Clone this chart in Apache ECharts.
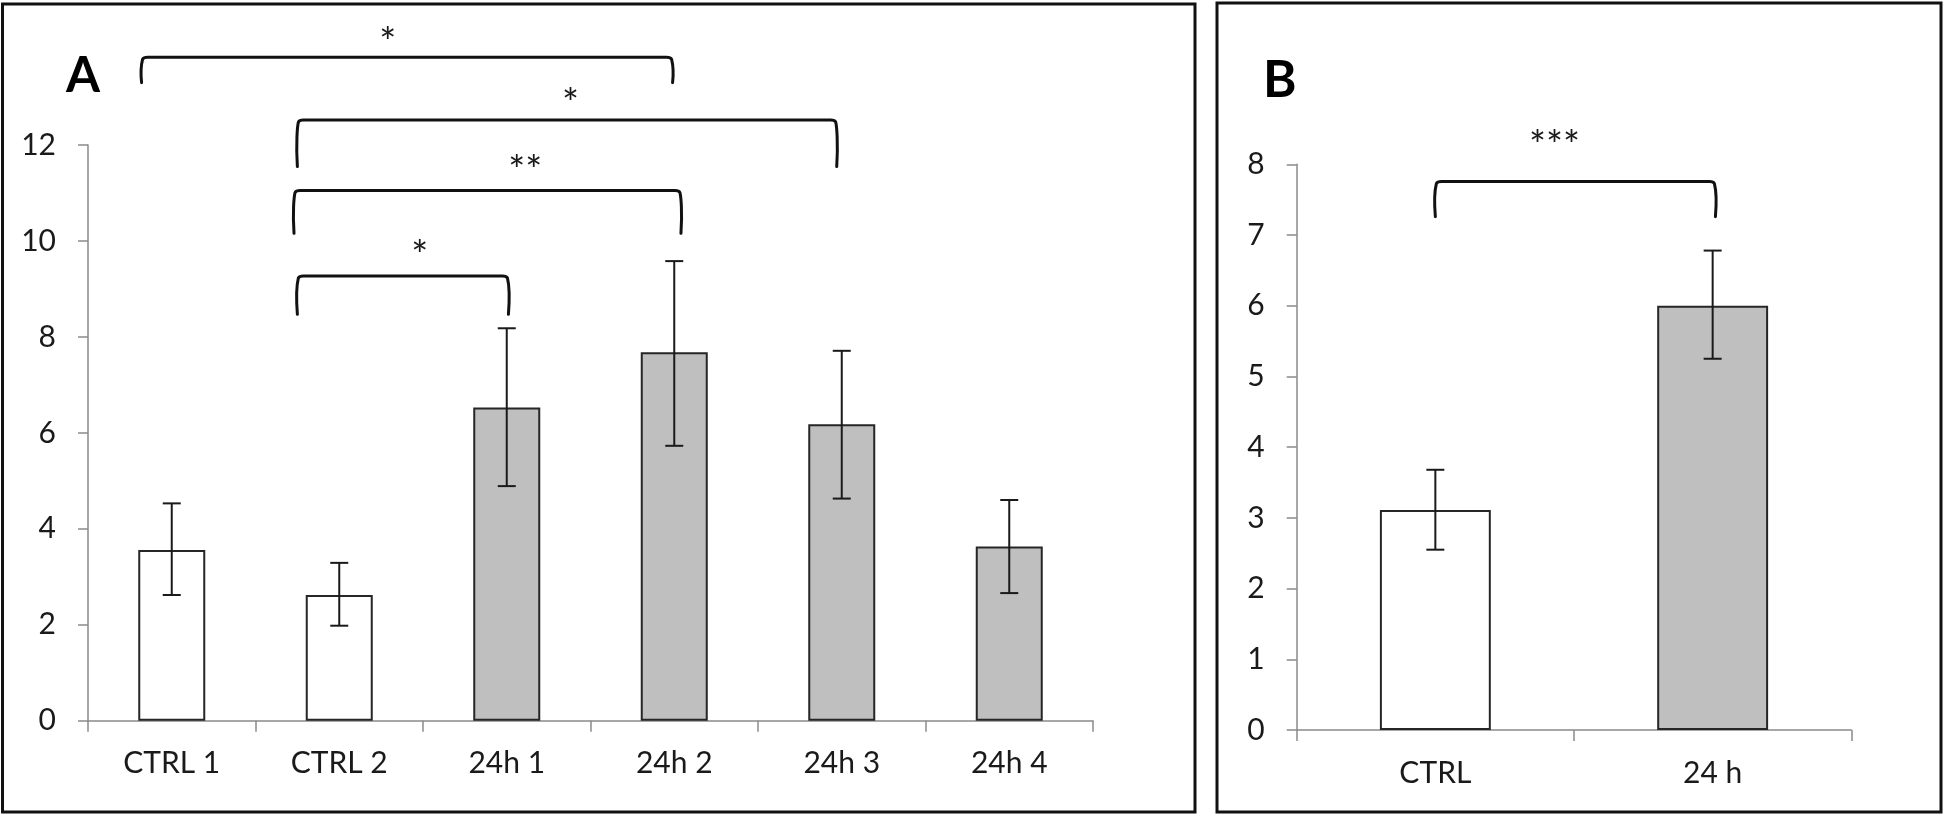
<!DOCTYPE html>
<html>
<head>
<meta charset="utf-8">
<script src="https://cdn.jsdelivr.net/npm/echarts@6/dist/echarts.min.js"></script>
<style>
html,body{margin:0;padding:0;background:#ffffff;}
#chart{width:1946px;height:815px;}
</style>
</head>
<body>
<div id="chart"></div>
<script>
// ---------- Panel A data ----------
const categoriesA = ['CTRL 1', 'CTRL 2', '24h 1', '24h 2', '24h 3', '24h 4'];
const groupA      = ['ctrl', 'ctrl', '24h', '24h', '24h', '24h'];
const meanA       = [3.56, 2.62, 6.53, 7.68, 6.18, 3.63];
const errHighA    = [4.53, 3.29, 8.18, 9.58, 7.71, 4.60];
const errLowA     = [2.62, 1.98, 4.89, 5.73, 4.63, 2.66];
const yTicksA     = { min: 0, max: 12, interval: 2 };

// significance brackets A (ends in category units, levels in data units)
const bracketFromA  = [-0.18, 0.75, 0.73, 0.75];
const bracketToA    = [2.99, 3.97, 3.04, 2.01];
const bracketTopA   = [13.83, 12.52, 11.05, 9.27];
const bracketEndA   = [13.30, 11.55, 10.16, 8.47];
const bracketLabelA = ['*', '*', '**', '*'];
const starPosA      = [1.29, 2.38, 2.11, 1.48];
const starLevelA    = [14.33, 13.04, 11.65, 9.88];

// ---------- Panel B data ----------
const categoriesB = ['CTRL', '24 h'];
const groupB      = ['ctrl', '24h'];
const meanB       = [3.11, 6.00];
const errHighB    = [3.68, 6.78];
const errLowB     = [2.55, 5.25];
const yTicksB     = { min: 0, max: 8, interval: 1 };

const bracketFromB  = [0.0];
const bracketToB    = [1.01];
const bracketTopB   = [7.755];
const bracketEndB   = [7.26];
const bracketLabelB = ['***'];
const starPosB      = [0.43];
const starLevelB    = [8.39];

// ---------- styling ----------
const FONT = 'Lato, "Open Sans", "DejaVu Sans", sans-serif';
const GREY = '#8a8a8a';
const INK = '#1a1a1a';
const FILL = { ctrl: '#ffffff', '24h': '#bfbfbf' };

function xAxis(gridIndex, data) {
  return {
    type: 'category', gridIndex: gridIndex, data: data, boundaryGap: true,
    axisLine: { show: true, lineStyle: { color: GREY, width: 1.5 } },
    axisTick: { show: true, length: 11, lineStyle: { color: GREY, width: 1.5 } },
    axisLabel: { margin: 28, fontSize: 30, fontFamily: FONT, color: INK },
    splitLine: { show: false }
  };
}
function yAxis(gridIndex, t) {
  return {
    type: 'value', gridIndex: gridIndex, min: t.min, max: t.max, interval: t.interval,
    axisLine: { show: true, lineStyle: { color: GREY, width: 1.5 } },
    axisTick: { show: true, length: 10, lineStyle: { color: GREY, width: 1.5 } },
    axisLabel: { margin: 32, fontSize: 30, fontFamily: FONT, color: INK },
    splitLine: { show: false }
  };
}
function barSeries(idx, values, groups) {
  return {
    type: 'bar', xAxisIndex: idx, yAxisIndex: idx, barWidth: '40%', silent: true,
    data: values.map((v, i) => ({ value: v, itemStyle: { color: FILL[groups[i]] } })),
    itemStyle: { borderColor: '#262626', borderWidth: 2 },
    z: 2
  };
}
function errorSeries(idx, lo, hi) {
  return {
    type: 'custom', xAxisIndex: idx, yAxisIndex: idx, z: 5, clip: false, silent: true,
    data: lo.map((l, i) => [i, l, hi[i]]),
    renderItem: function (params, api) {
      const i = api.value(0);
      const pLo = api.coord([i, api.value(1)]);
      const pHi = api.coord([i, api.value(2)]);
      const w = 9;
      const st = { stroke: INK, lineWidth: 2 };
      return {
        type: 'group', children: [
          { type: 'line', shape: { x1: pLo[0], y1: pLo[1], x2: pHi[0], y2: pHi[1] }, style: st },
          { type: 'line', shape: { x1: pLo[0] - w, y1: pLo[1], x2: pLo[0] + w, y2: pLo[1] }, style: st },
          { type: 'line', shape: { x1: pHi[0] - w, y1: pHi[1], x2: pHi[0] + w, y2: pHi[1] }, style: st }
        ]
      };
    }
  };
}
function bracketSeries(idx, from, to, top, end, labels, starPos, starLevel) {
  return {
    type: 'custom', xAxisIndex: idx, yAxisIndex: idx, z: 6, clip: false, silent: true,
    data: top.map((t, i) => [0, t]),
    renderItem: function (params, api) {
      const k = params.dataIndex;
      const c0 = api.coord([0, 0])[0];
      const band = api.size([1, 0])[0];
      const x1 = c0 + from[k] * band;
      const x2 = c0 + to[k] * band;
      const yT = api.coord([0, top[k]])[1];
      const yE = api.coord([0, end[k]])[1];
      const r = 6;
      const d = 'M' + x1 + ' ' + yE +
        ' C' + (x1 - 1.5) + ' ' + (yE - (yE - yT) * 0.5) + ' ' + x1 + ' ' + (yT + r) + ' ' + (x1 + 1) + ' ' + (yT + 2) +
        ' Q' + (x1 + 2) + ' ' + yT + ' ' + (x1 + r) + ' ' + yT +
        ' L' + (x2 - r) + ' ' + yT +
        ' Q' + (x2 - 2) + ' ' + yT + ' ' + (x2 - 1) + ' ' + (yT + 2) +
        ' C' + x2 + ' ' + (yT + r) + ' ' + (x2 + 1.5) + ' ' + (yE - (yE - yT) * 0.5) + ' ' + x2 + ' ' + yE;
      const sx = c0 + starPos[k] * band;
      const sy = api.coord([0, starLevel[k]])[1];
      const fs = 40;
      return {
        type: 'group', children: [
          { type: 'path', shape: { pathData: d }, style: { stroke: '#111111', lineWidth: 3, fill: null, lineCap: 'round', lineJoin: 'round' } },
          { type: 'text', x: sx, y: sy + fs * 0.26, style: { text: labels[k], fontSize: fs, fontFamily: FONT, fill: INK, align: 'center', verticalAlign: 'middle' } }
        ]
      };
    }
  };
}

const chart = echarts.init(document.getElementById('chart'), null, { renderer: 'canvas' });
chart.setOption({
  animation: false,
  backgroundColor: '#ffffff',
  grid: [
    { left: 88, top: 145, width: 1005, height: 575.7, containLabel: false },
    { left: 1296.7, top: 164.3, width: 554.6, height: 565.7, containLabel: false }
  ],
  xAxis: [xAxis(0, categoriesA), xAxis(1, categoriesB)],
  yAxis: [yAxis(0, yTicksA), yAxis(1, yTicksB)],
  series: [
    barSeries(0, meanA, groupA),
    errorSeries(0, errLowA, errHighA),
    bracketSeries(0, bracketFromA, bracketToA, bracketTopA, bracketEndA, bracketLabelA, starPosA, starLevelA),
    barSeries(1, meanB, groupB),
    errorSeries(1, errLowB, errHighB),
    bracketSeries(1, bracketFromB, bracketToB, bracketTopB, bracketEndB, bracketLabelB, starPosB, starLevelB)
  ],
  graphic: [
    { type: 'rect', silent: true, shape: { x: 2.5, y: 4, width: 1192.5, height: 808 }, style: { fill: null, stroke: '#111111', lineWidth: 3 } },
    { type: 'rect', silent: true, shape: { x: 1217, y: 3, width: 724, height: 809 }, style: { fill: null, stroke: '#111111', lineWidth: 3 } },
    { type: 'text', silent: true, x: 66, y: 76, style: { text: 'A', fontSize: 49, fontWeight: 'bold', fontFamily: FONT, fill: '#000000', align: 'left', verticalAlign: 'middle' } },
    { type: 'text', silent: true, x: 1263, y: 81, style: { text: 'B', fontSize: 51, fontWeight: 'bold', fontFamily: FONT, fill: '#000000', align: 'left', verticalAlign: 'middle' } }
  ]
});
</script>
</body>
</html>
